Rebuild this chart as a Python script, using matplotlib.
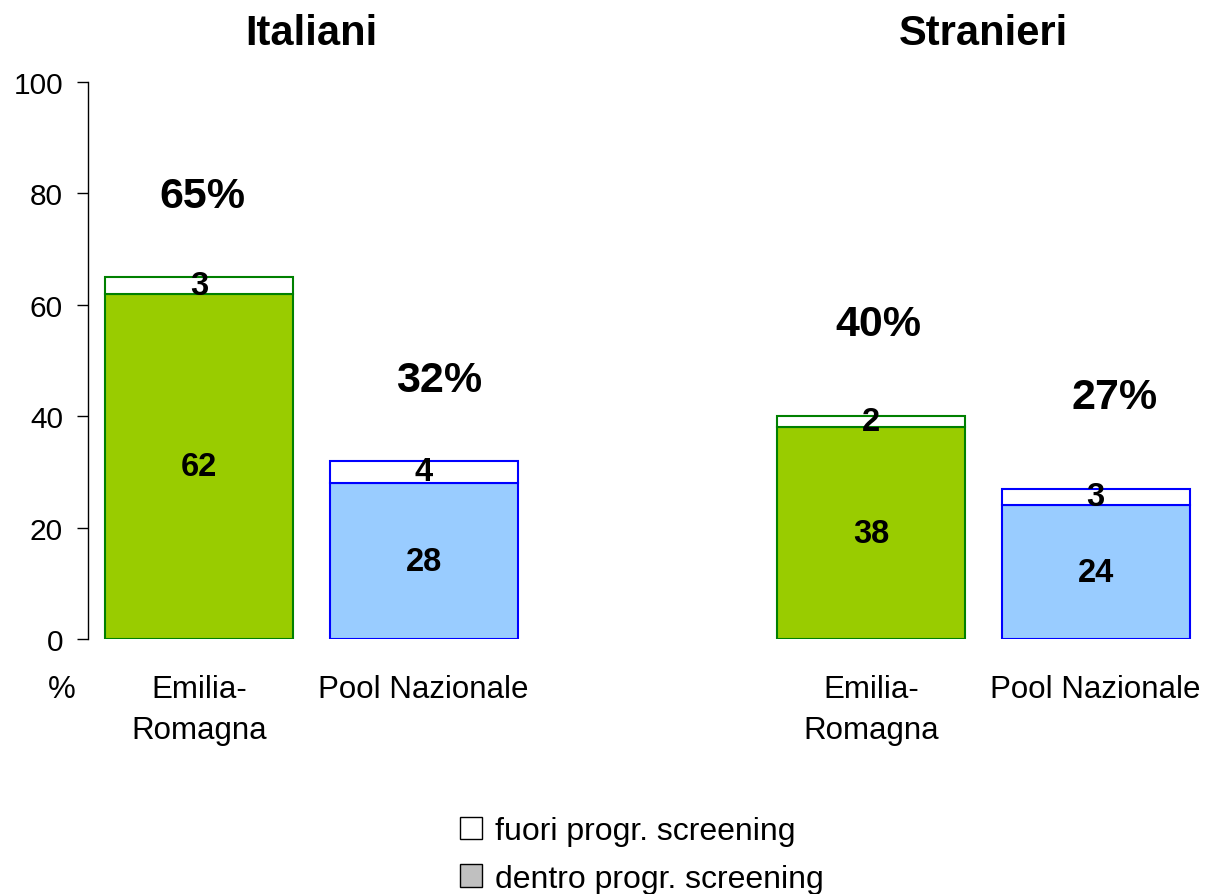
import matplotlib.pyplot as plt
from matplotlib.patches import Patch
from matplotlib.transforms import blended_transform_factory

plt.rcParams['font.family'] = ['Liberation Sans', 'DejaVu Sans']

groups = ["Italiani", "Stranieri"]
areas = ["Emilia-\nRomagna", "Pool Nazionale"]
# dentro programma screening / fuori programma screening (%)
dentro = [[62, 28], [38, 24]]
fuori = [[3, 4], [2, 3]]
totale = [[65, 32], [40, 27]]

fill_colors = ["#99CC00", "#99CCFF"]
edge_colors = ["#008000", "#0000FF"]
group_x = [0.59, 4.165]
bar_step = 1.195
bar_w = 1.0

fig = plt.figure(figsize=(12.11, 8.95), dpi=100)
ax = fig.add_axes([88 / 1211, 255 / 895, 1 - 88 / 1211, 557 / 895])

xticks, xlabels = [], []
trans = blended_transform_factory(ax.transData, fig.transFigure)
for g, name in enumerate(groups):
    centers = [group_x[g] + i * bar_step for i in range(len(areas))]
    for i, x in enumerate(centers):
        ax.bar(x, dentro[g][i], width=bar_w, color=fill_colors[i],
               edgecolor=edge_colors[i], linewidth=1.5)
        ax.bar(x, fuori[g][i], width=bar_w, bottom=dentro[g][i], color="white",
               edgecolor=edge_colors[i], linewidth=1.5)
        ax.text(x, dentro[g][i] / 2, str(dentro[g][i]), ha="center", va="center",
                fontsize=23.5, fontweight="bold")
        ax.text(x, dentro[g][i] + fuori[g][i] / 2, str(fuori[g][i]), ha="center",
                va="center", fontsize=23.5, fontweight="bold")
        dx = 0.02 + 0.06 * i + 0.02 * g
        dy = 14.5 if g == 0 else 16.5
        ax.text(x + dx, totale[g][i] + dy, f"{totale[g][i]}%", ha="center",
                va="center", fontsize=31, fontweight="bold")
        xticks.append(x)
        xlabels.append(areas[i])
    fig.text(sum(centers) / 2, 1 - 34 / 895, name, transform=trans,
             ha="center", va="center", fontsize=30, fontweight="bold")

ax.set_xlim(0, 1123 / 188)
ax.set_ylim(0, 100)
ax.set_yticks(range(0, 101, 20))
ax.set_xticks(xticks)
ax.set_xticklabels(xlabels, fontsize=22.5, linespacing=1.5)
ax.tick_params(axis="x", length=0, pad=25)
ax.tick_params(axis="y", direction="out", length=8, width=1, pad=10, labelsize=21.5)
for side in ["top", "right", "bottom"]:
    ax.spines[side].set_visible(False)
ax.spines["left"].set_linewidth(1)

fig.text(62 / 1211, 1 - 690 / 895, "%", ha="center", va="center", fontsize=22.5)

handles = [Patch(facecolor="white", edgecolor="black", label="fuori progr. screening"),
           Patch(facecolor="#C0C0C0", edgecolor="black", label="dentro progr. screening")]
fig.legend(handles=handles, loc="center", bbox_to_anchor=(642 / 1211, 1 - 856 / 895),
           frameon=False, fontsize=23, handlelength=0.7, handleheight=0.7,
           handletextpad=0.4, labelspacing=0.55)

fig.savefig("out.png", dpi=100)
